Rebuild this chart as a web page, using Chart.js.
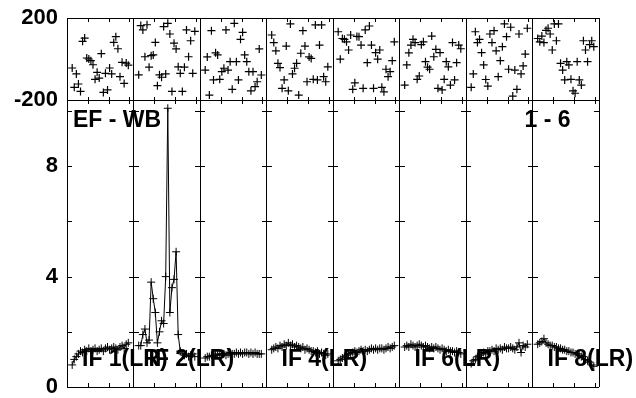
<!DOCTYPE html>
<html>
<head>
<meta charset="utf-8">
<script src="https://cdn.jsdelivr.net/npm/chart.js@4/dist/chart.umd.min.js"></script>
<style>
  html,body{margin:0;padding:0;background:#fff;}
</style>
</head>
<body>
<canvas id="c" width="636" height="398"></canvas>
<script>
/* ===============================
   DATA
================================ */
const ifLabels = ["IF 1(LR)","IF 2(LR)","","IF 4(LR)","","IF 6(LR)","","IF 8(LR)"];
const CH = 32;          // channel slots per IF
const FIRST_CH = 2.5;   // first used channel
const minorChannels = [10, 20, 30];
const ampTicks = [2, 4, 6, 8, 10];

const amp1 = [0.8,1.0,1.1,1.2,1.3,1.25,1.35,1.3,1.4,1.3,1.35,1.4,1.3,1.35,1.4,1.3,1.4,1.45,1.35,1.4,1.45,1.4,1.35,1.45,1.5,1.4,1.55,1.6];
const amp2 = [1.5,1.5,1.9,2.1,1.6,1.7,3.8,3.2,2.7,1.6,2.0,2.4,2.3,4.0,10.1,2.7,3.6,3.9,4.9,1.9,1.3,1.2,1.15,1.2,1.1,1.15,1.2,1.1];
const amp3 = [1.05,1.1,1.1,1.15,1.1,1.15,1.2,1.15,1.2,1.2,1.15,1.2,1.25,1.2,1.2,1.25,1.2,1.25,1.2,1.25,1.25,1.2,1.25,1.2,1.25,1.2,1.2,1.2];
const amp4 = [1.35,1.4,1.45,1.4,1.5,1.45,1.55,1.5,1.6,1.5,1.55,1.45,1.5,1.45,1.4,1.45,1.35,1.4,1.35,1.3,1.3,1.25,1.3,1.2,1.25,1.2,1.15,1.2];
const amp5 = [0.95,1.0,1.05,1.1,1.15,1.2,1.2,1.25,1.3,1.25,1.3,1.35,1.3,1.35,1.3,1.35,1.4,1.35,1.4,1.35,1.4,1.4,1.35,1.4,1.45,1.4,1.45,1.5];
const amp6 = [1.45,1.5,1.45,1.55,1.5,1.45,1.5,1.55,1.5,1.45,1.5,1.45,1.4,1.45,1.4,1.45,1.4,1.35,1.4,1.35,1.3,1.35,1.3,1.3,1.25,1.3,1.25,1.2];
const amp7 = [0.85,0.95,1.0,1.1,1.15,1.2,1.25,1.2,1.3,1.3,1.35,1.3,1.4,1.35,1.4,1.35,1.45,1.4,1.4,1.45,1.4,1.35,1.45,1.6,1.25,1.5,1.45,1.55];
const amp8 = [1.55,1.6,1.65,1.75,1.6,1.55,1.5,1.5,1.45,1.45,1.4,1.4,1.35,1.35,1.3,1.3,1.25,1.25,1.2,1.2,1.15,1.1,1.1,1.0,0.95,0.9,0.8,0.75];

const ph1 = [-44,-138,-73,-122,-158,86,102,5,0,-8,-28,-99,-65,-93,26,-163,-70,-151,-44,-73,81,109,50,-86,-16,-119,-20,-30];
const ph2 = [-77,163,142,11,167,-40,16,20,81,-130,-77,-89,158,-73,174,122,-158,77,49,-38,-70,-158,-40,142,11,89,-70,135];
const ph3 = [-54,10,-176,138,-102,30,20,-99,-62,-45,142,-54,-13,-148,174,-13,-102,96,130,20,-13,-62,-155,-62,-135,-111,49,-78];
const ph4 = [117,80,40,-21,-42,-143,-102,63,-155,171,-73,-45,-21,-176,28,138,63,-111,10,3,-99,166,-102,68,166,-86,-111,-38];
const ph5 = [133,-1,100,96,84,44,117,-148,-116,110,109,68,-143,142,-18,161,68,-143,31,-1,44,-138,-160,-50,-86,-62,-8,84];
const ph6 = [-127,-29,30,68,96,80,-99,-83,70,84,-13,-40,-50,112,11,47,-143,31,-151,-99,-13,-38,-127,80,-102,-18,68,50];
const ph7 = [-138,-73,133,80,96,31,-29,-100,-132,122,80,138,40,-86,-8,60,171,109,-50,155,-181,-54,-148,122,-73,-34,24,150];
const ph8 = [100,84,112,80,140,150,122,44,171,89,171,-21,-54,-102,-13,-29,-99,-155,-167,-13,-102,-127,89,44,-13,70,89,60];

const ampSeries = [amp1,amp2,amp3,amp4,amp5,amp6,amp7,amp8];
const phSeries = [ph1,ph2,ph3,ph4,ph5,ph6,ph7,ph8];
const N_IF = ampSeries.length;

const FONT = "'Liberation Sans', Arial, sans-serif";

/* ===============================
   DATASETS
================================ */
const toPoints = (arr, i) => arr.map((v, k) => ({x: i*CH + FIRST_CH + k, y: v}));

const datasets = [];
ampSeries.forEach((arr, i) => {
  datasets.push({
    type: "line",
    data: toPoints(arr, i),
    yAxisID: "amp",
    borderColor: "#000",
    borderWidth: 1,
    pointStyle: "cross",
    pointRadius: 4,
    pointBorderWidth: 1,
    pointBorderColor: "#000",
    tension: 0
  });
});
phSeries.forEach((arr, i) => {
  datasets.push({
    type: "line",
    showLine: false,
    data: toPoints(arr, i),
    yAxisID: "ph",
    pointStyle: "cross",
    pointRadius: 4,
    pointBorderWidth: 1.2,
    pointBorderColor: "#000"
  });
});

/* ===============================
   PANEL DECORATION (ticks + labels)
================================ */
const panelDecor = {
  id: "panelDecor",
  afterDatasetsDraw(chart){
    const {ctx, scales} = chart;
    const x = scales.x, amp = scales.amp, ph = scales.ph;
    ctx.save();
    ctx.strokeStyle = "#000";
    ctx.lineWidth = 1;
    ctx.beginPath();
    for(let i = 0; i < N_IF; i++){
      for(const c of minorChannels){
        const px = Math.round(x.getPixelForValue(i*CH + c)) + 0.5;
        ctx.moveTo(px, ph.top); ctx.lineTo(px, ph.top + 4);
        ctx.moveTo(px, amp.top - 3); ctx.lineTo(px, amp.top + 4);
        ctx.moveTo(px, amp.bottom); ctx.lineTo(px, amp.bottom - 4);
      }
    }
    for(let i = 0; i <= N_IF; i++){
      const px = Math.round(x.getPixelForValue(i*CH));
      for(const v of ampTicks){
        const py = Math.round(amp.getPixelForValue(v)) + 0.5;
        ctx.moveTo(i > 0 ? px - 5 : px, py);
        ctx.lineTo(i < N_IF ? px + 5 : px, py);
      }
    }
    ctx.stroke();

    ctx.fillStyle = "#000";
    ctx.font = "bold 23px " + FONT;
    ctx.textBaseline = "alphabetic";
    ctx.textAlign = "left";
    ifLabels.forEach((t, i) => {
      if(t) ctx.fillText(t, x.getPixelForValue(i*CH) + 15, amp.bottom - 21);
    });
    ctx.fillText("EF - WB", x.getPixelForValue(0) + 6, amp.top + 27);
    ctx.textAlign = "right";
    ctx.fillText("1 - 6", x.getPixelForValue(7*CH) + 38, amp.top + 27);
    ctx.restore();
  }
};

// fixed axis width, no extra label padding
const fixY = s => { s.width = 67; s.paddingTop = 0; s.paddingBottom = 0; };

/* ===============================
   CHART
================================ */
new Chart(document.getElementById("c"), {
  data: {datasets},
  options: {
    responsive: false,
    animation: false,
    layout: {padding: {top: 18, right: 37, bottom: 11, left: 0}},
    plugins: {legend: {display: false}, tooltip: {enabled: false}},
    scales: {
      x: {
        type: "linear",
        min: 0,
        max: N_IF*CH,
        ticks: {display: false, stepSize: CH},
        grid: {color: "#000", lineWidth: 1, drawTicks: false},
        border: {display: false},
        afterFit: s => { s.height = 0; s.paddingLeft = 0; s.paddingRight = 0; }
      },
      amp: {
        type: "linear",
        position: "left",
        stack: "panels",
        stackWeight: 287,
        min: 0,
        max: 10.4,
        ticks: {
          stepSize: 2,
          padding: 9,
          color: "#000",
          font: {family: FONT, size: 22, weight: "bold"},
          callback: v => [0,4,8].includes(v) ? String(v) : ""
        },
        grid: {color: c => c.tick.value === 0 ? "#000" : "rgba(0,0,0,0)", drawTicks: false},
        border: {display: false},
        afterFit: fixY
      },
      ph: {
        type: "linear",
        position: "left",
        stack: "panels",
        stackWeight: 82,
        min: -200,
        max: 200,
        ticks: {
          stepSize: 200,
          padding: 9,
          color: "#000",
          font: {family: FONT, size: 22, weight: "bold"},
          callback: v => v === 0 ? "" : String(v)
        },
        grid: {color: "#000", drawTicks: false},
        border: {display: false},
        afterFit: fixY
      }
    }
  },
  plugins: [panelDecor]
});
</script>
</body>
</html>
